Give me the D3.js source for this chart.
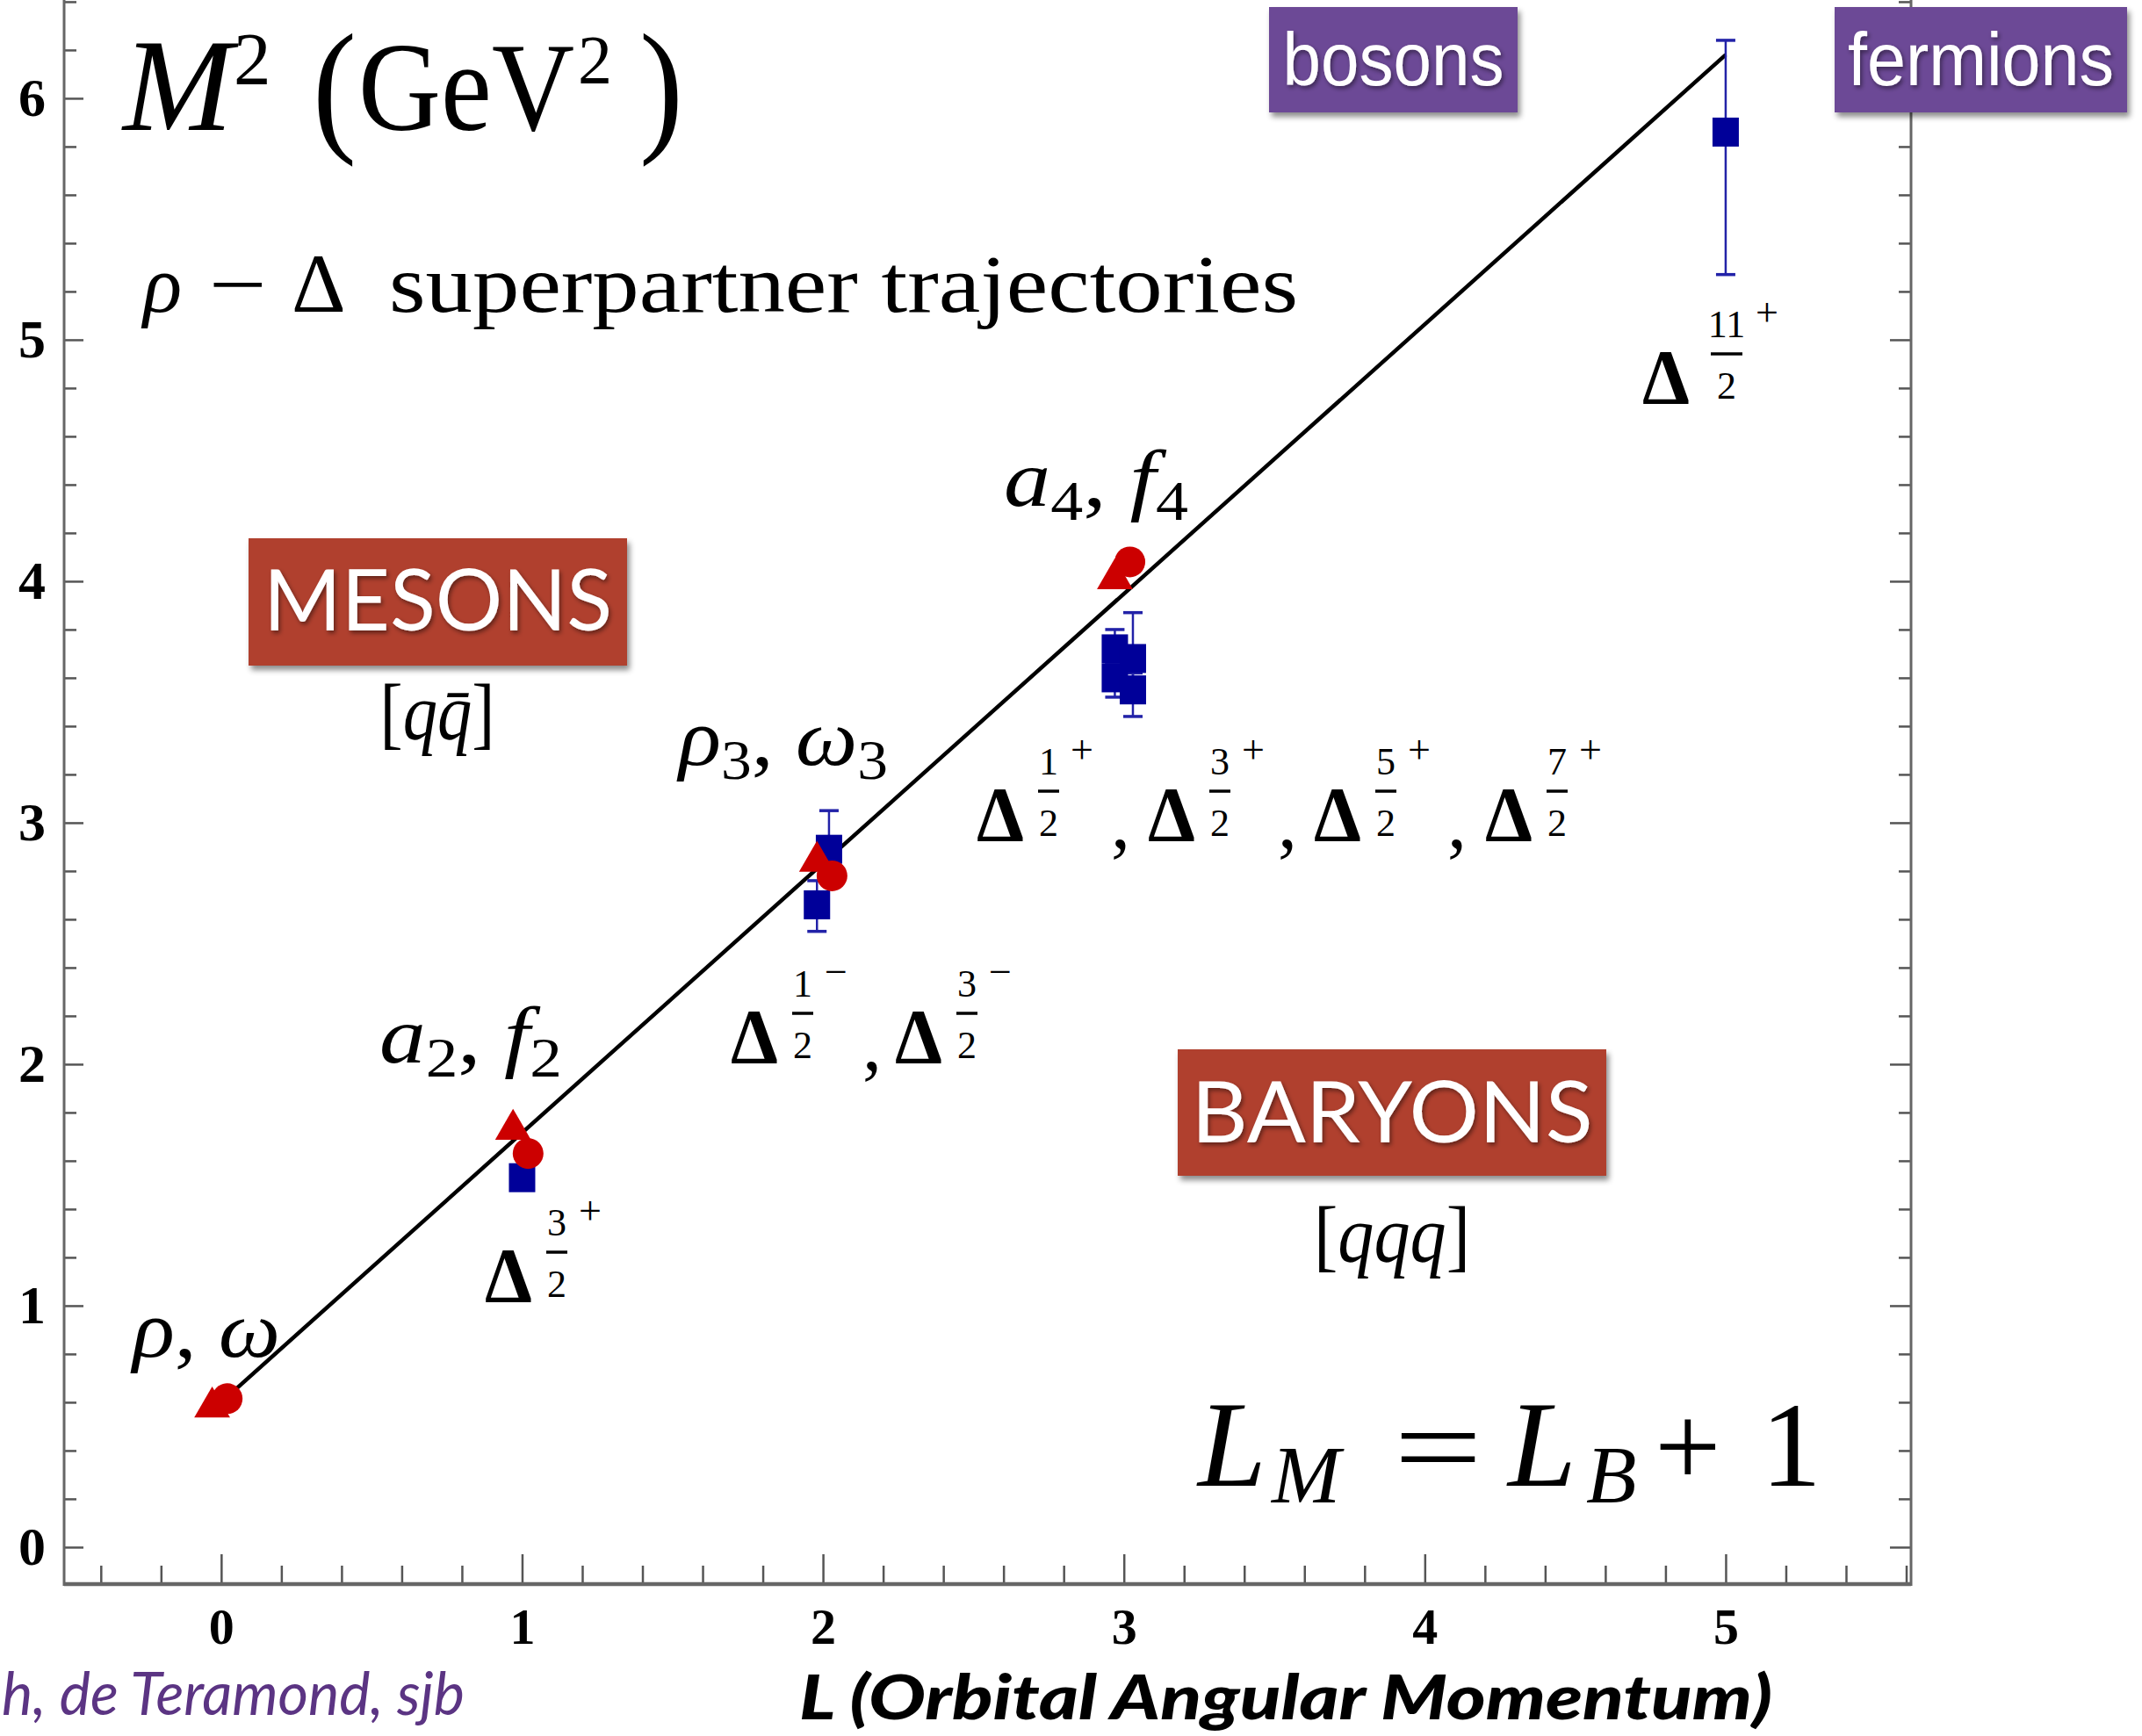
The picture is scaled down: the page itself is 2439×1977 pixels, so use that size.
<!DOCTYPE html>
<html><head><meta charset="utf-8">
<script src="https://cdn.jsdelivr.net/npm/d3@7"></script>
<style>body{margin:0;background:#fff;overflow:hidden}</style>
</head><body>
<svg id="c" width="2439" height="1977" xmlns="http://www.w3.org/2000/svg"></svg>
<script>
// ---------- data ----------
const xTicks = [0, 1, 2, 3, 4, 5];
const yTicks = [0, 1, 2, 3, 4, 5, 6];
// Regge trajectory line (L, M^2)
const trajL = [0, 5];
const trajM2 = [0.60, 6.18];
// mesons: triangles (a-type) and circles (f / rho-omega)
const triL  = [-0.03, 0.97, 1.98, 2.97];
const triM2 = [0.58, 1.73, 2.84, 4.01];
const cirL  = [0.02, 1.02, 2.03, 3.02];
const cirM2 = [0.615, 1.63, 2.78, 4.08];
// baryons (Delta) squares with error bars
const sqL  = [1.00, 1.98, 2.02, 2.97, 3.03, 2.97, 3.03, 5.00];
const sqM2 = [1.53, 2.66, 2.89, 3.72, 3.68, 3.60, 3.55, 5.86];
const sqLo = [null, 2.55, 2.80, 3.66, 3.50, 3.52, 3.44, 5.27];
const sqHi = [null, 2.76, 3.05, 3.80, 3.87, 3.66, 3.62, 6.24];

// ---------- setup ----------
const svg = d3.select("#c");
const SERIF = "'Liberation Serif','DejaVu Serif',serif";
const SANS = "'Liberation Sans',Arial,sans-serif";
const GILL = "Lato,'Open Sans',sans-serif";

const x = d3.scaleLinear().domain([-0.522, 5.616]).range([73, 2176]);
const y = d3.scaleLinear().domain([-0.153, 6.407]).range([1804, 0]);

const defs = svg.append("defs");
const f1 = defs.append("filter").attr("id","boxsh").attr("x","-10%").attr("y","-10%").attr("width","130%").attr("height","140%");
f1.append("feDropShadow").attr("dx",3).attr("dy",5).attr("stdDeviation",3).attr("flood-color","#000").attr("flood-opacity",0.45);
const f2 = defs.append("filter").attr("id","txtsh").attr("x","-5%").attr("y","-5%").attr("width","115%").attr("height","115%");
f2.append("feDropShadow").attr("dx",2).attr("dy",3).attr("stdDeviation",2.5).attr("flood-color","#000").attr("flood-opacity",0.45);

// ---------- axes ----------
const axG = svg.append("g");
const minorX = d3.range(-0.4, 5.61, 0.2).map(v => +v.toFixed(2)).filter(v => Math.abs(v - Math.round(v)) > 1e-6);
const minorY = d3.range(0.2, 6.41, 0.2).map(v => +v.toFixed(2)).filter(v => Math.abs(v - Math.round(v)) > 1e-6);

function styleAxis(g){
  g.select(".domain").remove();
  g.selectAll(".tick line").attr("stroke","#555").attr("stroke-width",2.5);
}
// bottom
axG.append("g").attr("transform","translate(0,1804)")
  .call(d3.axisBottom(x).tickValues(xTicks).tickSize(-34).tickPadding(27).tickFormat(d3.format("d")))
  .call(styleAxis)
  .call(g => g.selectAll("text").attr("font-family",SERIF).attr("font-weight","bold").attr("font-size",58).attr("fill","#000"));
axG.append("g").attr("transform","translate(0,1804)")
  .call(d3.axisBottom(x).tickValues(minorX).tickSize(-21).tickFormat(""))
  .call(styleAxis);
// left
axG.append("g").attr("transform","translate(73,0)")
  .call(d3.axisLeft(y).tickValues(yTicks).tickSize(-22).tickPadding(21).tickFormat(d3.format("d")))
  .call(styleAxis)
  .call(g => g.selectAll("text").attr("font-family",SERIF).attr("font-weight","bold").attr("font-size",62).attr("fill","#000"));
axG.append("g").attr("transform","translate(73,0)")
  .call(d3.axisLeft(y).tickValues(minorY).tickSize(-14).tickFormat(""))
  .call(styleAxis);
// right
axG.append("g").attr("transform","translate(2176,0)")
  .call(d3.axisRight(y).tickValues(yTicks).tickSize(-24).tickFormat(""))
  .call(styleAxis);
axG.append("g").attr("transform","translate(2176,0)")
  .call(d3.axisRight(y).tickValues(minorY).tickSize(-14).tickFormat(""))
  .call(styleAxis);
// frame lines
axG.append("line").attr("x1",x.range()[0]).attr("x2",x.range()[0]).attr("y1",0).attr("y2",1806).attr("stroke","#666").attr("stroke-width",3);
axG.append("line").attr("x1",x.range()[1]).attr("x2",x.range()[1]).attr("y1",0).attr("y2",1806).attr("stroke","#666").attr("stroke-width",3);
axG.append("line").attr("x1",x.range()[0]).attr("x2",x.range()[1]).attr("y1",1804).attr("y2",1804).attr("stroke","#666").attr("stroke-width",4.5);

// ---------- trajectory line ----------
const traj = trajL.map((l,i)=>({l, m:trajM2[i]}));
svg.append("path").datum(traj)
  .attr("d", d3.line().x(d=>x(d.l)).y(d=>y(d.m)))
  .attr("stroke","#000").attr("stroke-width",4.5).attr("fill","none");

// ---------- baryons ----------
const RED = "#cc0000", BLUE = "#000099", EBLUE = "#2222a8";
const sq = sqL.map((l,i)=>({l, m:sqM2[i], lo:sqLo[i], hi:sqHi[i]}));
const eb = svg.append("g").attr("stroke",EBLUE).attr("stroke-width",2.5);
sq.filter(d=>d.lo!==null).forEach(d=>{
  eb.append("line").attr("x1",x(d.l)).attr("x2",x(d.l)).attr("y1",y(d.lo)).attr("y2",y(d.hi));
  [d.lo,d.hi].forEach(v=>eb.append("line").attr("x1",x(d.l)-11).attr("x2",x(d.l)+11).attr("y1",y(v)).attr("y2",y(v)).attr("stroke-width",3.5));
});
svg.append("g").selectAll("rect").data(sq).join("rect")
  .attr("x", d=>x(d.l)-15).attr("y", d=>y(d.m)-16.5)
  .attr("width",30).attr("height",33).attr("fill",BLUE);

// ---------- mesons ----------
const tri = triL.map((l,i)=>({l, m:triM2[i]}));
const cir = cirL.map((l,i)=>({l, m:cirM2[i]}));
svg.append("g").selectAll("path").data(tri).join("path")
  .attr("d", d3.symbol(d3.symbolTriangle).size(720))
  .attr("transform", d=>`translate(${x(d.l)},${y(d.m)})`)
  .attr("fill",RED);
svg.append("g").selectAll("circle").data(cir).join("circle")
  .attr("cx", d=>x(d.l)).attr("cy", d=>y(d.m)).attr("r",17.5).attr("fill",RED);

// ---------- title & annotations ----------
const T = svg.append("g").attr("font-family",SERIF).attr("fill","#000");
T.append("text").attr("x",140).attr("y",148).attr("font-size",150).attr("font-style","italic").text("M");
T.append("text").attr("x",266).attr("y",96).attr("font-size",85).text("2");
T.append("text").attr("transform","translate(356,154) scale(1,1.12)").attr("font-size",150).text("(");
T.append("text").attr("x",408).attr("y",148).attr("font-size",145).attr("textLength",246).attr("lengthAdjust","spacingAndGlyphs").text("GeV");
T.append("text").attr("x",658).attr("y",94).attr("font-size",78).text("2");
T.append("text").attr("transform","translate(728,154) scale(1,1.12)").attr("font-size",150).text(")");

// subtitle
T.append("text").attr("x",163).attr("y",355).attr("font-size",92).attr("font-style","italic").text("ρ");
T.append("text").attr("x",238).attr("y",355).attr("font-size",92).attr("textLength",66).attr("lengthAdjust","spacingAndGlyphs").text("−");
T.append("text").attr("x",332).attr("y",355).attr("font-size",96).text("Δ");
T.append("text").attr("x",443).attr("y",355).attr("font-size",94)
  .attr("textLength",1035).attr("lengthAdjust","spacingAndGlyphs").text("superpartner trajectories");

// meson labels
function mesonLabel(px, py, w, a, sa, b, sb){
  const t = T.append("text").attr("x",px).attr("y",py).attr("font-size",92)
    .attr("textLength",w).attr("lengthAdjust","spacingAndGlyphs");
  t.append("tspan").attr("font-style","italic").text(a);
  if (sa) t.append("tspan").attr("font-size",64).attr("dy",16).text(sa);
  t.append("tspan").attr("dy", sa ? -16 : 0).text(", ");
  t.append("tspan").attr("font-style","italic").text(b);
  if (sb) t.append("tspan").attr("font-size",64).attr("dy",16).text(sb);
}
mesonLabel(151, 1545, 168, "ρ", null, "ω", null);
mesonLabel(432, 1210, 208, "a", "2", "f", "2");
mesonLabel(773, 871, 238, "ρ", "3", "ω", "3");
mesonLabel(1143, 576, 210, "a", "4", "f", "4");

// Delta labels
function delta(px, py, num, sign){
  T.append("text").attr("x",px).attr("y",py).attr("font-size",88).attr("font-weight","bold")
    .attr("textLength",54).attr("lengthAdjust","spacingAndGlyphs").text("Δ");
  const two = num.length > 1;
  const fc = px + (two ? 96 : 82);
  T.append("text").attr("x",fc).attr("y",py-75).attr("font-size",44).attr("text-anchor","middle").text(num);
  T.append("line").attr("x1",fc-(two?18:12)).attr("x2",fc+(two?18:12)).attr("y1",py-56).attr("y2",py-56).attr("stroke","#000").attr("stroke-width",3.5);
  T.append("text").attr("x",fc).attr("y",py-5).attr("font-size",44).attr("text-anchor","middle").text("2");
  T.append("text").attr("x",px+(two?142:120)).attr("y",py-88).attr("font-size",46).attr("text-anchor","middle").text(sign);
}
function comma(px, py){ T.append("text").attr("x",px).attr("y",py).attr("font-size",88).text(","); }
delta(552, 1482, "3", "+");
delta(832, 1210, "1", "−"); comma(982, 1218); delta(1019, 1210, "3", "−");
delta(1112, 957, "1", "+"); comma(1265, 965);
delta(1307, 957, "3", "+"); comma(1455, 965);
delta(1496, 957, "5", "+"); comma(1648, 965);
delta(1691, 957, "7", "+");
delta(1870, 459, "11", "+");

// L_M = L_B + 1
const eq = T.append("g");
eq.append("text").attr("x",1364).attr("y",1692).attr("font-size",140).attr("font-style","italic").text("L");
eq.append("text").attr("x",1448).attr("y",1711).attr("font-size",94).attr("font-style","italic").text("M");
eq.append("text").attr("x",1587).attr("y",1692).attr("font-size",132).attr("textLength",101).attr("lengthAdjust","spacingAndGlyphs").text("=");
eq.append("text").attr("x",1717).attr("y",1692).attr("font-size",140).attr("font-style","italic").text("L");
eq.append("text").attr("x",1806).attr("y",1711).attr("font-size",94).attr("font-style","italic").text("B");
eq.append("text").attr("x",1884).attr("y",1692).attr("font-size",134).text("+");
eq.append("text").attr("x",2005).attr("y",1692).attr("font-size",138).text("1");

// ---------- boxes ----------
function box(x0, y0, w, h, fill, label, fs, tl, base, font){
  svg.append("rect").attr("x",x0).attr("y",y0).attr("width",w).attr("height",h).attr("fill",fill).attr("filter","url(#boxsh)");
  svg.append("text").attr("x",x0+w/2).attr("y",base).attr("text-anchor","middle")
    .attr("font-family",font).attr("font-size",fs).attr("fill","#fff")
    .attr("textLength",tl).attr("lengthAdjust","spacingAndGlyphs")
    .attr("filter","url(#txtsh)").text(label);
}
const PURPLE = "#6c4896", BRICK = "#b0402f";
box(1445, 8, 283, 120, PURPLE, "bosons", 86, 252, 97, SANS);
box(2089, 8, 333, 120, PURPLE, "fermions", 86, 303, 97, SANS);
box(283, 613, 431, 145, BRICK, "MESONS", 96, 397, 718, GILL);
box(1341, 1195, 488, 144, BRICK, "BARYONS", 96, 457, 1301, GILL);

// quark content
const q1 = T.append("text").attr("x",498).attr("y",842).attr("font-size",90).attr("text-anchor","middle")
  .attr("textLength",131).attr("lengthAdjust","spacingAndGlyphs");
q1.append("tspan").text("[");
q1.append("tspan").attr("font-style","italic").text("q");
q1.append("tspan").attr("font-style","italic").text("q\u0304");
q1.append("tspan").text("]");
const q2 = T.append("text").attr("x",1585).attr("y",1437).attr("font-size",90).attr("text-anchor","middle")
  .attr("textLength",178).attr("lengthAdjust","spacingAndGlyphs");
q2.append("tspan").text("[");
q2.append("tspan").attr("font-style","italic").text("qqq");
q2.append("tspan").text("]");

// ---------- bottom texts ----------
svg.append("text").attr("x",910).attr("y",1958).attr("font-family",GILL).attr("font-weight",900).attr("font-style","italic")
  .attr("font-size",70).attr("textLength",1108).attr("lengthAdjust","spacingAndGlyphs").attr("fill","#000")
  .text("L (Orbital Angular Momentum)");
svg.append("text").attr("x",2).attr("y",1953).attr("font-family",GILL).attr("font-style","italic")
  .attr("font-size",68).attr("textLength",527).attr("lengthAdjust","spacingAndGlyphs").attr("fill","#5b3483")
  .text("h, de Teramond, sjb");
</script>
</body></html>
